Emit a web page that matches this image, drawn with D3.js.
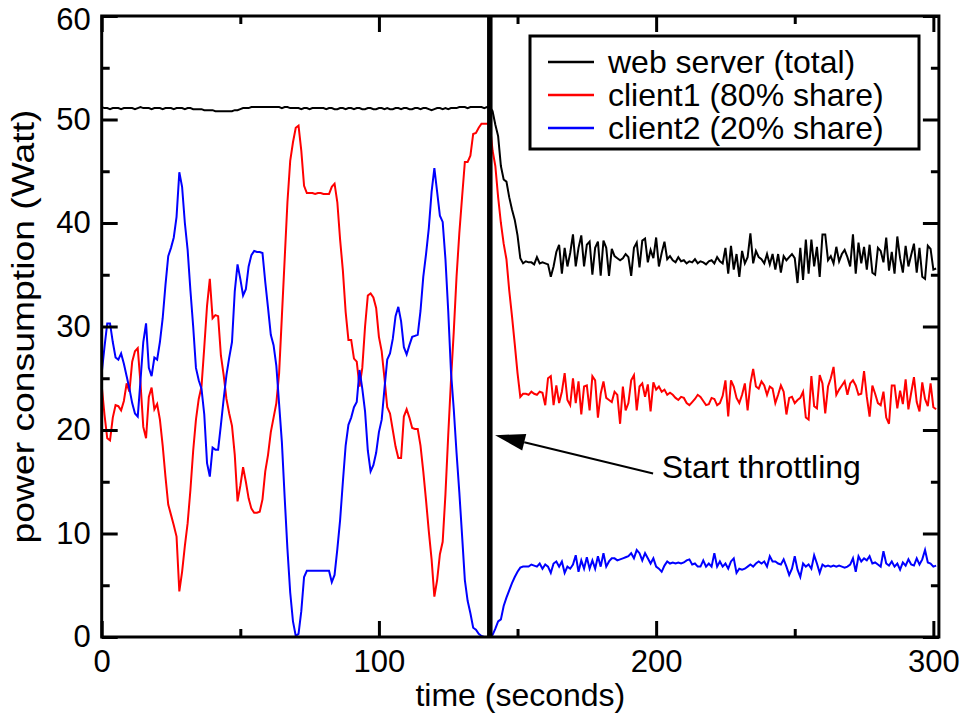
<!DOCTYPE html>
<html>
<head>
<meta charset="utf-8">
<script src="https://cdn.jsdelivr.net/npm/d3@7"></script>
<style>
  body { margin: 0; background: #fff; }
  text { font-family: "Liberation Sans", Arial, Helvetica, sans-serif; fill: #000; }
</style>
</head>
<body>
<svg id="chart" width="962" height="717"></svg>
<script>
// one sample per second, t = 0 .. 301
const START_TIME = 0;
const THROTTLE_TIME = 140;

const serverTotal = [
  51.2, 51.1, 51.1, 51.0, 51.1, 51.1, 51.1, 51.0, 51.1, 51.1,
  51.1, 51.1, 51.0, 51.1, 51.2, 51.1, 51.1, 51.1, 51.0, 51.1,
  51.1, 51.1, 51.0, 51.1, 51.1, 51.1, 51.0, 51.1, 51.1, 51.1,
  51.0, 51.1, 51.1, 51.0, 51.0, 51.0, 51.0, 50.9, 50.9, 50.9,
  50.9, 50.8, 50.8, 50.8, 50.8, 50.8, 50.8, 50.8, 50.9, 50.9,
  51.0, 51.1, 51.1, 51.1, 51.2, 51.2, 51.2, 51.2, 51.2, 51.2,
  51.2, 51.2, 51.2, 51.2, 51.2, 51.1, 51.2, 51.2, 51.1, 51.1,
  51.1, 51.1, 51.0, 51.1, 51.1, 51.0, 51.1, 51.1, 51.1, 51.1,
  51.1, 51.0, 51.1, 51.1, 51.0, 51.0, 51.1, 51.1, 51.0, 51.1,
  51.1, 51.0, 51.1, 51.1, 51.0, 51.0, 51.1, 51.1, 51.0, 51.0,
  51.1, 51.1, 51.0, 51.1, 51.0, 51.0, 51.1, 51.1, 51.0, 51.1,
  51.1, 51.0, 51.0, 51.1, 51.1, 51.0, 51.1, 51.1, 51.0, 50.9,
  51.0, 51.1, 51.1, 51.0, 51.1, 51.0, 51.1, 51.1, 51.1, 51.2,
  51.2, 51.2, 51.1, 51.2, 51.2, 51.2, 51.2, 51.2, 51.1, 51.2,
  51.2, 50.8, 49.5, 48.4, 45.5, 44.2, 44.0, 42.5, 41.3, 40.3,
  38.8, 36.6, 36.1,
  36.3, 36.2, 36.2, 36.0, 36.7, 36.1, 36.2, 36.1, 36.0, 34.8,
  35.8, 37.2, 37.9, 35.1, 37.6, 35.8, 37.1, 38.9, 35.8, 37.6,
  38.8, 35.8, 37.9, 38.2, 35.0, 37.6, 38.2, 34.9, 38.3, 37.6,
  34.9, 37.5, 36.8, 36.6, 36.4, 36.6, 37.0, 36.7, 34.9, 37.6,
  38.1, 35.7, 38.3, 38.5, 36.2, 37.4, 36.6, 38.6, 35.8, 37.1,
  38.2, 36.5, 36.8,
  36.4, 36.2, 36.7, 36.3, 36.4, 36.1, 36.3, 36.2, 36.5, 36.1,
  36.3, 36.2, 36.0, 36.3, 36.4, 36.1, 36.7, 36.3, 36.1,
  37.6, 35.1, 37.8, 35.5, 37.0, 34.8, 37.3, 36.1, 36.7, 39.0,
  36.1, 37.3, 36.7, 36.5, 36.1, 37.0, 36.0, 37.0, 35.5, 37.0,
  35.2, 36.8, 36.4, 36.7, 37.0, 36.6, 34.2, 37.6, 34.5, 38.4,
  35.1, 38.4, 35.8, 37.7, 34.8, 38.9, 38.9, 36.4, 36.8, 36.1,
  37.7, 36.3, 37.0, 37.4, 36.7, 35.8, 38.9, 35.1, 38.1, 36.1,
  37.7, 35.5, 37.9, 35.2, 35.0, 37.6, 37.3, 36.2, 38.6, 35.4,
  37.2, 35.1, 38.7, 36.6, 35.2, 37.8, 35.8, 36.9, 38.0, 35.2,
  37.6, 34.8, 34.6, 37.8, 37.5, 35.5, 35.6
];

const client1 = [
  24.3, 21.5, 19.2, 19.0, 21.2, 22.4, 22.3, 21.9, 22.8, 24.5,
  23.7, 26.6, 27.6, 27.9, 24.5, 20.3, 19.2, 23.2, 24.1, 22.0,
  22.5, 21.0, 18.5, 15.5, 12.8, 11.8, 10.8, 9.7, 4.4, 6.3,
  8.8, 11.0, 14.2, 18.0, 21.0, 23.0, 24.2, 28.0, 32.0, 34.6,
  30.8, 31.1, 31.0, 27.2, 25.3, 23.0, 21.6, 20.4, 17.6, 13.1,
  14.6, 16.4, 15.0, 13.4, 12.4, 12.0, 12.0, 12.1, 13.3, 16.0,
  17.6, 19.8, 21.2, 22.6, 25.5, 31.0, 36.5, 42.0, 46.0, 47.8,
  49.2, 49.4, 47.0, 43.6, 42.9, 42.9, 42.9, 42.8, 42.9, 42.9,
  42.8, 42.8, 42.8, 43.5, 43.8, 42.0, 38.4, 35.4, 31.4, 28.7,
  28.7, 26.9, 26.6, 24.2, 26.0, 30.0, 33.0, 33.2, 32.8, 31.8,
  29.0, 27.6, 25.0, 22.2, 21.6, 20.0, 18.4, 17.3, 17.3, 21.3,
  22.0, 21.2, 20.2, 20.1, 20.1, 18.5, 16.0, 13.2, 10.2, 7.5,
  3.9, 5.5, 8.0, 9.2, 13.8, 19.5, 24.8, 29.5, 34.8, 39.0,
  42.5, 45.9, 45.9, 46.5, 48.6, 48.7, 49.2, 49.6, 49.6, 49.6,
  49.6, 47.0, 45.5, 42.5, 40.0, 38.0, 36.5, 33.5, 31.0, 28.3,
  25.5, 23.2, 23.5,
  23.5, 23.4, 23.7, 23.5, 23.4, 23.7, 23.6, 22.4,
  25.0, 25.2, 22.4, 24.3, 22.6, 23.7, 25.5, 22.9, 22.4, 25.0,
  22.6, 24.7, 21.5, 24.2, 24.3, 21.9, 25.2, 24.8, 21.2, 23.5,
  24.7, 23.1, 22.9, 22.7, 23.7, 23.4, 20.6, 24.2, 21.9, 22.6,
  24.8, 25.3, 21.9, 24.2, 24.5, 23.2, 24.4, 21.8, 24.6, 23.9,
  24.2, 23.7, 23.9, 23.4, 23.6,
  23.4, 23.1, 22.9, 23.2, 23.1, 22.6, 22.4, 22.7, 23.0, 23.4,
  23.2, 22.8, 22.4, 22.5, 23.1, 23.0, 22.4, 22.6, 23.3,
  24.8, 21.3, 24.8, 24.2, 23.1, 22.6, 23.4, 24.5, 21.9, 24.5,
  25.9, 24.2, 24.0, 24.7, 24.3, 23.4, 24.2, 24.0, 22.6, 23.4,
  24.3, 23.7, 21.5, 23.1, 23.2, 22.6, 22.9, 23.1, 23.7, 21.2,
  21.0, 25.2, 22.3, 22.1, 25.3, 24.5, 21.6, 24.2, 25.0, 26.1,
  23.4, 23.9, 24.3, 24.7, 23.4, 24.5, 24.8, 24.3, 23.4, 23.5,
  25.7, 23.2, 21.3, 24.3, 23.5, 22.6, 22.4, 23.7, 21.2, 20.6,
  24.3, 24.3, 22.1, 23.8, 22.5, 24.9, 22.0, 23.6, 25.1, 22.7,
  21.8, 24.6, 23.0, 22.3, 24.5, 22.2, 22.0
];

const client2 = [
  25.5, 28.0, 30.3, 30.3, 28.5, 27.0, 26.8, 27.4, 26.4, 25.2,
  24.0, 22.6, 21.6, 21.3, 24.8, 28.5, 30.3, 26.0, 25.2, 27.0,
  26.8, 28.5, 30.8, 34.0, 36.8, 37.6, 38.6, 40.6, 44.9, 43.5,
  40.0, 37.4, 33.5, 30.0, 26.0, 24.8, 24.0, 21.5, 16.8, 15.5,
  18.3, 18.1, 18.1, 20.5, 23.0, 25.3, 27.0, 28.5, 33.4, 36.0,
  34.6, 33.0, 33.6, 35.8, 36.9, 37.3, 37.2, 37.2, 37.1, 34.3,
  31.8, 29.2, 28.2, 26.2, 22.5, 18.8, 13.5, 8.5, 4.3, 1.5,
  0.1, 0.3, 2.5, 5.8, 6.4, 6.4, 6.4, 6.4, 6.4, 6.4,
  6.4, 6.4, 6.4, 5.3, 6.0, 8.5, 11.3, 15.0, 18.5, 20.5,
  21.2, 22.2, 22.7, 25.8, 24.0, 21.8, 18.0, 16.0, 16.6, 17.8,
  19.8, 21.0, 24.0, 26.8, 27.4, 28.8, 31.0, 31.9, 30.5, 28.0,
  27.3, 28.2, 29.0, 29.1, 29.2, 31.5, 34.8, 37.0, 39.5, 43.0,
  45.3, 43.0, 40.7, 40.1, 36.5, 31.5, 25.6, 22.0, 17.8, 14.0,
  9.8, 5.5, 3.5, 2.3, 0.9, 0.7, 0.3, 0.1, 0.0, 0.0,
  0.0, 0.2, 0.8, 1.5, 1.7, 3.0, 3.8, 4.5, 5.2, 5.8,
  6.3, 6.7, 6.8, 6.8, 6.8, 7.0, 6.9, 6.8,
  7.1, 6.6, 7.0, 6.8, 6.2, 7.1, 7.3, 6.8, 7.3, 6.2,
  6.8, 6.6, 7.0, 7.9, 6.3, 7.4, 6.6, 7.7, 6.6, 7.4,
  6.6, 7.8, 6.8, 8.1, 6.8, 7.3, 7.6, 7.6, 7.4, 7.5,
  7.6, 7.7, 7.8, 8.1, 7.6, 8.4, 8.1, 7.4, 8.1, 7.6,
  7.1, 7.6, 6.8, 6.6, 6.3, 6.9, 7.3, 7.1,
  7.2, 7.1, 7.2, 7.1, 7.2, 7.4, 7.5, 7.0, 7.1, 6.8,
  6.8, 7.4, 6.8, 7.1, 6.8, 8.1, 6.8, 7.3, 6.8,
  7.1, 6.6, 7.3, 7.6, 6.2, 6.6, 6.5, 6.6, 6.8, 7.0,
  6.8, 7.1, 7.3, 7.1, 7.3, 6.8, 7.8, 7.3, 7.3, 7.1,
  7.0, 7.5, 6.8, 6.0, 6.6, 7.8, 6.5, 5.8, 7.1, 6.8,
  7.0, 6.6, 7.9, 7.1, 6.2, 7.0, 6.8, 6.9, 6.8, 6.9,
  6.8, 6.9, 6.8, 6.7, 6.8, 7.0, 7.6, 6.3, 7.8, 7.3,
  7.6, 7.4, 7.8, 7.1, 7.2, 7.0, 6.8, 8.3, 7.1, 6.9,
  7.3, 6.8, 7.1, 6.5, 7.2, 6.9, 7.5, 7.0, 6.9, 7.6,
  7.0, 7.5, 8.4, 7.2, 7.1, 6.8, 6.9
];

const seriesNames = ["web server (total)", "client1 (80% share)", "client2 (20% share)"];
const seriesColors = ["#000000", "#ff0000", "#0000ff"];

const xMajorTicks = [0, 100, 200, 300];
const xMinorTicks = [50, 150, 250];
const yMajorTicks = [0, 10, 20, 30, 40, 50, 60];
const yMinorTicks = [5, 15, 25, 35, 45, 55];

const xTitle = "time (seconds)";
const yTitle = "power consumption (Watt)";
const noteText = "Start throttling";

// --------------------------------------------------------

const svg = d3.select("#chart");
svg.append("rect").attr("width", 962).attr("height", 717).attr("fill", "#fff");

const plotLeft = 101.7, plotRight = 938.9, plotTop = 16, plotBottom = 637;

const x = d3.scaleLinear().domain([0, 302]).range([plotLeft, plotRight]);
const y = d3.scaleLinear().domain([0, 60]).range([plotBottom, plotTop]);

// data lines, clipped to the frame
svg.append("defs").append("clipPath").attr("id", "plotClip")
  .append("rect").attr("x", plotLeft).attr("y", plotTop)
  .attr("width", plotRight - plotLeft).attr("height", plotBottom - plotTop);

const line = d3.line()
  .x((d, i) => x(START_TIME + i))
  .y(d => y(d));

const plot = svg.append("g").attr("clip-path", "url(#plotClip)");
[serverTotal, client1, client2].forEach((values, k) => {
  plot.append("path")
    .datum(values)
    .attr("fill", "none")
    .attr("stroke", seriesColors[k])
    .attr("stroke-width", 2)
    .attr("stroke-linejoin", "miter")
    .attr("d", line);
});

// thick marker at the throttling start
svg.append("line")
  .attr("x1", x(THROTTLE_TIME)).attr("x2", x(THROTTLE_TIME))
  .attr("y1", plotTop).attr("y2", plotBottom)
  .attr("stroke", "#000").attr("stroke-width", 5.5);

// axes: ticks pointing inward on all four sides
function styleAxis(g) {
  g.select(".domain").remove();
  g.selectAll(".tick line").attr("stroke", "#000").attr("stroke-width", 3);
  g.selectAll(".tick text").attr("font-size", 31).attr("fill", "#000");
}

svg.append("g").attr("transform", `translate(0,${plotBottom})`)
  .call(d3.axisBottom(x).tickValues(xMajorTicks).tickSize(-16).tickPadding(13).tickFormat(d3.format("d")))
  .call(styleAxis);
svg.append("g").attr("transform", `translate(0,${plotBottom})`)
  .call(d3.axisBottom(x).tickValues(xMinorTicks).tickSize(-8).tickFormat(""))
  .call(styleAxis);
svg.append("g").attr("transform", `translate(0,${plotTop})`)
  .call(d3.axisTop(x).tickValues(xMajorTicks).tickSize(-16).tickFormat(""))
  .call(styleAxis);
svg.append("g").attr("transform", `translate(0,${plotTop})`)
  .call(d3.axisTop(x).tickValues(xMinorTicks).tickSize(-8).tickFormat(""))
  .call(styleAxis);

const yAxisLeft = svg.append("g").attr("transform", `translate(${plotLeft},0)`)
  .call(d3.axisLeft(y).tickValues(yMajorTicks).tickSize(-16).tickPadding(11).tickFormat(d3.format("d")))
  .call(styleAxis);
// the top label sits a little lower so it stays inside the page
yAxisLeft.selectAll(".tick text").filter(d => d === 60).attr("y", 4);

svg.append("g").attr("transform", `translate(${plotLeft},0)`)
  .call(d3.axisLeft(y).tickValues(yMinorTicks).tickSize(-8).tickFormat(""))
  .call(styleAxis);
svg.append("g").attr("transform", `translate(${plotRight},0)`)
  .call(d3.axisRight(y).tickValues(yMajorTicks).tickSize(-16).tickFormat(""))
  .call(styleAxis);
svg.append("g").attr("transform", `translate(${plotRight},0)`)
  .call(d3.axisRight(y).tickValues(yMinorTicks).tickSize(-8).tickFormat(""))
  .call(styleAxis);

// frame
svg.append("rect")
  .attr("x", plotLeft).attr("y", plotTop)
  .attr("width", plotRight - plotLeft).attr("height", plotBottom - plotTop)
  .attr("fill", "none").attr("stroke", "#000").attr("stroke-width", 3);

// axis titles
svg.append("text")
  .attr("x", (plotLeft + plotRight) / 2).attr("y", 706)
  .attr("text-anchor", "middle").attr("font-size", 32)
  .text(xTitle);

svg.append("text")
  .attr("transform", `translate(34,${(plotTop + plotBottom) / 2}) rotate(-90)`)
  .attr("text-anchor", "middle").attr("font-size", 32)
  .attr("textLength", 434).attr("lengthAdjust", "spacingAndGlyphs")
  .text(yTitle);

// legend
const legend = svg.append("g").attr("transform", "translate(530,36)");
legend.append("rect")
  .attr("width", 389).attr("height", 113)
  .attr("fill", "#fff").attr("stroke", "#000").attr("stroke-width", 3);
seriesNames.forEach((name, k) => {
  const ly = 26 + k * 33;
  legend.append("line")
    .attr("x1", 18).attr("x2", 64).attr("y1", ly).attr("y2", ly)
    .attr("stroke", seriesColors[k]).attr("stroke-width", 2.5);
  legend.append("text")
    .attr("x", 78).attr("y", ly + 11)
    .attr("font-size", 32)
    .text(name);
});

// annotation arrow
const tip = [x(141.9), y(19.5)];
const tail = [x(198.9), y(15.8)];
const ang = Math.atan2(tip[1] - tail[1], tip[0] - tail[0]);
const headLen = 30, headHalf = 8.5;
const base = [tip[0] - headLen * Math.cos(ang), tip[1] - headLen * Math.sin(ang)];
svg.append("line")
  .attr("x1", tail[0]).attr("y1", tail[1]).attr("x2", base[0]).attr("y2", base[1])
  .attr("stroke", "#000").attr("stroke-width", 2);
svg.append("polygon")
  .attr("points", [
    tip,
    [base[0] - headHalf * Math.sin(ang), base[1] + headHalf * Math.cos(ang)],
    [base[0] + headHalf * Math.sin(ang), base[1] - headHalf * Math.cos(ang)]
  ].map(p => p.join(",")).join(" "))
  .attr("fill", "#000");

svg.append("text")
  .attr("x", x(202)).attr("y", y(15.4))
  .attr("font-size", 32)
  .text(noteText);
</script>
</body>
</html>
